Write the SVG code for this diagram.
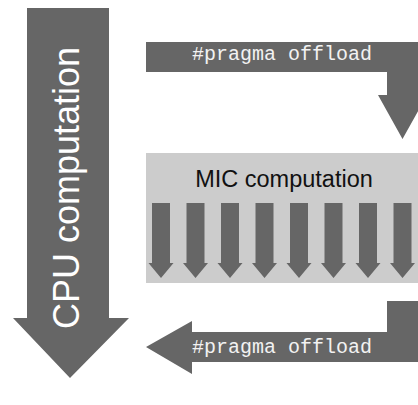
<svg xmlns="http://www.w3.org/2000/svg" width="418" height="405" viewBox="0 0 418 405">
<style>
.arrow{fill:#666666}
.box{fill:#cccccc}
.sans{font-family:"Liberation Sans",Arial,Helvetica,sans-serif}
.mono{font-family:"Liberation Mono","Courier New",monospace;font-size:20px;fill:#f2f2f2}
</style>
<defs>
<path id="small" class="arrow" d="M-9,0 H9 V60 H12.5 L0,75 L-12.5,60 H-9 Z"/>
</defs>
<rect width="418" height="405" fill="#ffffff"/>
<g id="cpu">
<path class="arrow" d="M27,8 H109 V318 H129 L70,378 L13,318 H27 Z"/>
<text class="sans" font-size="36" fill="#ffffff" text-anchor="middle" transform="translate(79,188) rotate(-90)">CPU computation</text>
</g>
<g id="mic">
<rect class="box" x="146" y="153" width="272" height="130"/>
<text class="sans" font-size="23.5" fill="#111111" text-anchor="middle" x="284" y="187">MIC computation</text>
<use href="#small" x="161" y="203"/>
<use href="#small" x="195.5" y="203"/>
<use href="#small" x="230" y="203"/>
<use href="#small" x="264.5" y="203"/>
<use href="#small" x="299" y="203"/>
<use href="#small" x="333.5" y="203"/>
<use href="#small" x="368" y="203"/>
<use href="#small" x="402.5" y="203"/>
</g>
<g id="connectors">
<g id="offload-in">
<path class="arrow" d="M146,42 H418 V95 H427 L402.5,139 L378,95 H387 V72 H146 Z"/>
<text class="mono" x="192" y="60">#pragma offload</text>
</g>
<g id="offload-out">
<path class="arrow" d="M418,301 V362 H192 V374 L146,347 L192,321 V332 H387 V301 Z"/>
<text class="mono" x="192" y="353">#pragma offload</text>
</g>
</g>
</svg>
